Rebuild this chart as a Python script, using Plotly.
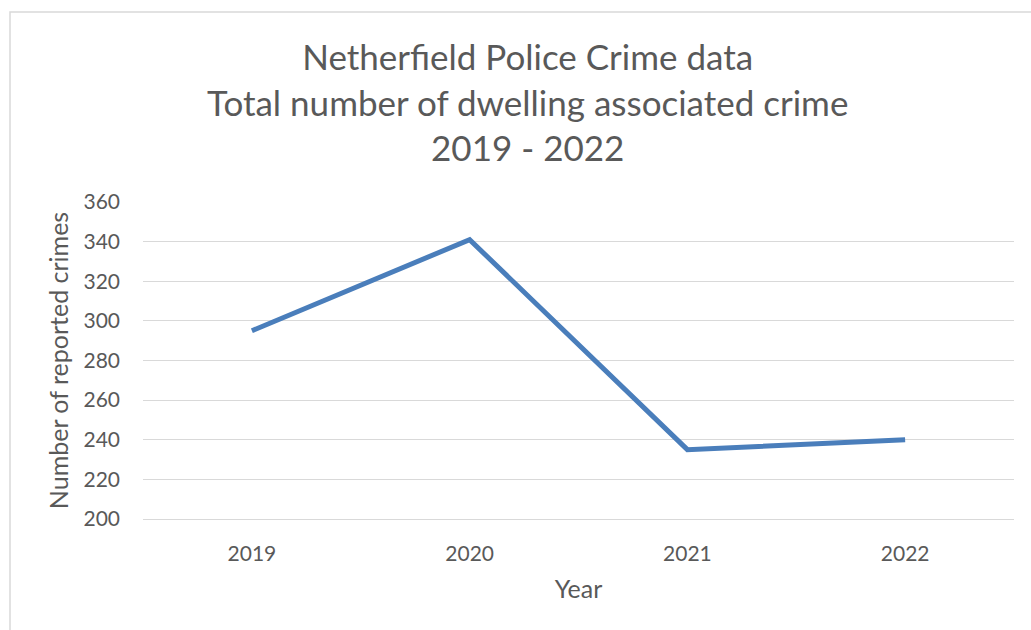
import plotly.graph_objects as go

years = ["2019", "2020", "2021", "2022"]
crimes = [295, 341, 235, 240]
y_ticks = [200, 220, 240, 260, 280, 300, 320, 340, 360]
title_lines = ["Netherfield Police Crime data",
               "Total number of dwelling associated crime",
               "2019 - 2022"]

W, H = 1031, 630
L, R, T, B = 143, 17, 202, 111
pw, ph = W - L - R, H - T - B

grey = "#595959"
font = "Lato"

fig = go.Figure()
fig.add_trace(go.Scatter(
    x=years, y=crimes, mode="lines",
    line=dict(color="#4a7ebb", width=5),
    hoverinfo="skip",
))

fig.update_layout(
    width=W, height=H,
    margin=dict(l=L, r=R, t=T, b=B),
    paper_bgcolor="white", plot_bgcolor="white",
    showlegend=False,
    font=dict(family=font, color=grey),
    annotations=[dict(
        text="<br>".join(title_lines),
        xref="paper", yref="paper",
        x=(527 - L) / pw, y=1 + (T - 101) / ph,
        xanchor="center", yanchor="middle",
        showarrow=False, align="center",
        font=dict(size=35, color=grey, family=font),
    )],
    xaxis=dict(
        type="category", range=[-0.5, 3.5],
        showgrid=False, zeroline=False,
        showline=True, linecolor="#d9d9d9", linewidth=1,
        ticks="", tickfont=dict(size=21, color=grey),
        ticklabelstandoff=16,
        title=dict(text="Year", font=dict(size=25, color=grey), standoff=16),
    ),
    yaxis=dict(
        range=[200, 360], tickvals=y_ticks,
        showgrid=True, gridcolor="#d9d9d9", gridwidth=1,
        zeroline=False, showline=False, ticks="",
        tickfont=dict(size=21, color=grey),
        ticklabelstandoff=22,
        title=dict(text="Number of reported crimes", font=dict(size=25, color=grey), standoff=7),
    ),
    shapes=[dict(
        type="rect", xref="paper", yref="paper",
        x0=(10 - L) / pw, x1=(W + 20 - L) / pw,
        y0=1 - (H + 20 - T) / ph, y1=1 + (T - 12) / ph,
        line=dict(color="#d9d9d9", width=1.5), fillcolor="rgba(0,0,0,0)",
        layer="below",
    )],
)

fig.write_html("out.html")
